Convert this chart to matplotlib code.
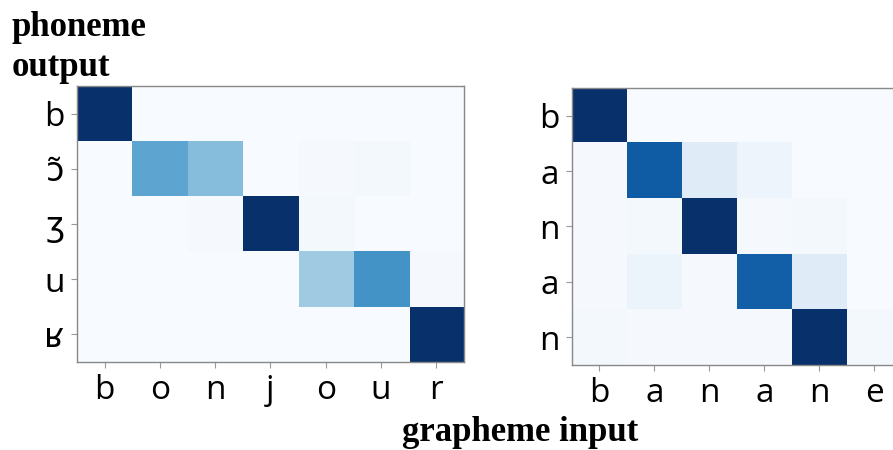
import matplotlib.pyplot as plt
import numpy as np

# left: "bonjour" -> /b ɔ̃ ʒ u ʁ/
bonjour_in = ['b', 'o', 'n', 'j', 'o', 'u', 'r']
bonjour_out = ['b', 'ɔ̃', 'ʒ', 'u', 'ʁ']
bonjour_att = [
    [1.00, 0.00, 0.00, 0.00, 0.00, 0.00, 0.00],
    [0.00, 0.54, 0.43, 0.00, 0.01, 0.02, 0.00],
    [0.00, 0.00, 0.01, 1.00, 0.02, 0.00, 0.00],
    [0.00, 0.00, 0.00, 0.00, 0.37, 0.62, 0.01],
    [0.00, 0.00, 0.00, 0.00, 0.00, 0.00, 1.00],
]

# right: "banane" -> /b a n a n/
banane_in = ['b', 'a', 'n', 'a', 'n', 'e']
banane_out = ['b', 'a', 'n', 'a', 'n']
banane_att = [
    [1.00, 0.00, 0.00, 0.00, 0.00, 0.00],
    [0.01, 0.83, 0.12, 0.05, 0.00, 0.00],
    [0.01, 0.02, 1.00, 0.01, 0.02, 0.00],
    [0.01, 0.06, 0.01, 0.82, 0.12, 0.00],
    [0.02, 0.01, 0.01, 0.01, 1.00, 0.02],
]

tick_font = dict(family=['Open Sans', 'DejaVu Sans'], size=24)

fig = plt.figure(figsize=(8.93, 4.5), dpi=100)
ax1 = fig.add_axes([0.0862, 0.1956, 0.4334, 0.6133])
ax2 = fig.add_axes([0.6405, 0.1889, 0.3695, 0.6156])

for ax, att, xin, yout in [(ax1, bonjour_att, bonjour_in, bonjour_out),
                           (ax2, banane_att, banane_in, banane_out)]:
    ax.imshow(np.array(att), cmap='Blues', vmin=0, vmax=1, aspect='auto',
              interpolation='nearest')
    ax.set_xticks(range(len(xin)))
    ax.set_xticklabels(xin, fontdict=tick_font)
    ax.set_yticks(range(len(yout)))
    ax.set_yticklabels(yout, fontdict=tick_font)
    ax.tick_params(length=4, color='#999999', pad=5)
    for s in ax.spines.values():
        s.set_color('#888888')
        s.set_linewidth(1)

fig.text(0.013, 0.975, 'phoneme\noutput', va='top', ha='left',
         family='Liberation Serif', weight='bold', size=25, linespacing=1.28)
fig.text(0.583, 0.002, 'grapheme input', va='bottom', ha='center',
         family='Liberation Serif', weight='bold', size=25)

fig.savefig('out.png', dpi=100)
